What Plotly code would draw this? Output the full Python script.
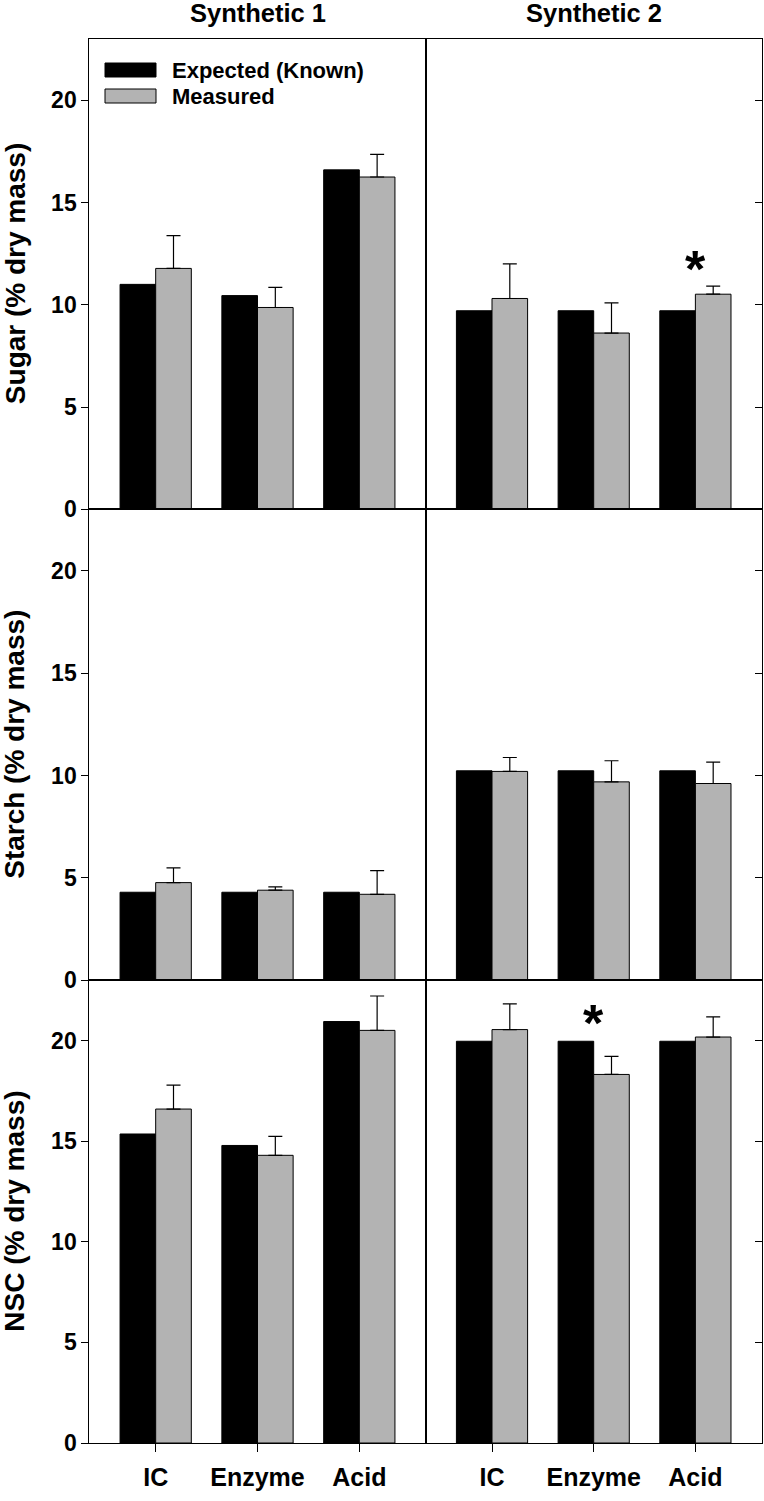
import plotly.graph_objects as go
from plotly.subplots import make_subplots

categories = ["IC", "Enzyme", "Acid"]
columns = ["Synthetic 1", "Synthetic 2"]
row_titles = ["Sugar (% dry mass)", "Starch (% dry mass)", "NSC (% dry mass)"]
series_names = ["Expected (Known)", "Measured"]

sugar_s1_expected = [11.0, 10.45, 16.6]
sugar_s1_measured = [11.78, 9.87, 16.25]
sugar_s1_err = [1.6, 0.98, 1.11]
sugar_s2_expected = [9.71, 9.71, 9.71]
sugar_s2_measured = [10.31, 8.62, 10.52]
sugar_s2_err = [1.69, 1.48, 0.39]

starch_s1_expected = [4.3, 4.3, 4.3]
starch_s1_measured = [4.77, 4.40, 4.20]
starch_s1_err = [0.72, 0.16, 1.16]
starch_s2_expected = [10.23, 10.23, 10.23]
starch_s2_measured = [10.20, 9.69, 9.61]
starch_s2_err = [0.68, 1.03, 1.04]

nsc_s1_expected = [15.36, 14.79, 20.95]
nsc_s1_measured = [16.60, 14.30, 20.51]
nsc_s1_err = [1.19, 0.94, 1.71]
nsc_s2_expected = [19.97, 19.97, 19.97]
nsc_s2_measured = [20.55, 18.32, 20.18]
nsc_s2_err = [1.28, 0.90, 1.0]

# significance markers: (row, col, category, y-value)
sig_row = [1, 3]
sig_col = [2, 2]
sig_cat = ["Acid", "Enzyme"]
sig_y = [12.04, 21.2]

y_ticks = [0, 5, 10, 15, 20]

panels = [
    [(sugar_s1_expected, sugar_s1_measured, sugar_s1_err),
     (sugar_s2_expected, sugar_s2_measured, sugar_s2_err)],
    [(starch_s1_expected, starch_s1_measured, starch_s1_err),
     (starch_s2_expected, starch_s2_measured, starch_s2_err)],
    [(nsc_s1_expected, nsc_s1_measured, nsc_s1_err),
     (nsc_s2_expected, nsc_s2_measured, nsc_s2_err)],
]

FONT = "Liberation Sans, Arial, sans-serif"
BLACK = "#000000"
GRAY = "#b3b3b3"
W, H = 764, 1501

fig = make_subplots(rows=3, cols=2, horizontal_spacing=0, vertical_spacing=0)

for r in range(3):
    for c in range(2):
        exp, meas, err = panels[r][c]
        fig.add_trace(go.Bar(x=categories, y=exp, name=series_names[0],
                             marker=dict(color=BLACK, line=dict(color=BLACK, width=1)),
                             showlegend=False), row=r + 1, col=c + 1)
        fig.add_trace(go.Bar(x=categories, y=meas, name=series_names[1],
                             marker=dict(color=GRAY, line=dict(color=BLACK, width=1)),
                             error_y=dict(type="data", array=err, arrayminus=[0] * len(err),
                                          symmetric=False, color=BLACK, thickness=1.2, width=7),
                             showlegend=False), row=r + 1, col=c + 1)

# pixel geometry -> domains
xl = [89.3, 425.7, 761.7]
yb = [39, 509.3, 980.3, 1443]
xdom = [[xl[0] / W, xl[1] / W], [xl[1] / W, xl[2] / W]]
ydom = [[1 - yb[i + 1] / H, 1 - yb[i] / H] for i in range(3)]

for r in range(3):
    for c in range(2):
        idx = r * 2 + c + 1
        xa = "xaxis" if idx == 1 else f"xaxis{idx}"
        ya = "yaxis" if idx == 1 else f"yaxis{idx}"
        bottom = (r == 2)
        fig.layout[xa].update(
            domain=xdom[c], range=[-0.652, 2.652], showline=True, mirror=True,
            linecolor=BLACK, linewidth=1, showgrid=False, zeroline=False,
            ticks="outside" if bottom else "", ticklen=8, tickwidth=1, tickcolor=BLACK,
            showticklabels=bottom, automargin=False, ticklabelstandoff=4,
            tickfont=dict(family=FONT, size=25, color=BLACK, weight="bold"),
        )
        fig.layout[ya].update(
            domain=ydom[r], range=[0, 23], showline=True, mirror=True,
            linecolor=BLACK, linewidth=1, showgrid=False, zeroline=False,
            tickvals=y_ticks, ticks="outside" if c == 0 else "inside",
            side="left" if c == 0 else "right",
            ticklen=7, tickwidth=1, tickcolor=BLACK,
            showticklabels=(c == 0), automargin=False,
            tickfont=dict(family=FONT, size=23, color=BLACK, weight="bold"),
        )

annotations = []
for c in range(2):
    annotations.append(dict(text=columns[c], xref="paper", yref="paper",
                            x=(xdom[c][0] + xdom[c][1]) / 2, y=1 - 13 / H,
                            xanchor="center", yanchor="middle", showarrow=False,
                            font=dict(family=FONT, size=25.5, color=BLACK, weight="bold")))
for r in range(3):
    annotations.append(dict(text=row_titles[r], xref="paper", yref="paper",
                            x=15 / W, y=(ydom[r][0] + ydom[r][1]) / 2, textangle=-90,
                            xanchor="center", yanchor="middle", showarrow=False,
                            font=dict(family=FONT, size=28, color=BLACK, weight="bold")))
for i in range(len(sig_y)):
    idx = (sig_row[i] - 1) * 2 + sig_col[i]
    annotations.append(dict(text="*", xref=f"x{idx}" if idx > 1 else "x",
                            yref=f"y{idx}" if idx > 1 else "y",
                            x=sig_cat[i], y=sig_y[i], xanchor="center", yanchor="middle",
                            yshift=-6, showarrow=False,
                            font=dict(family=FONT, size=52, color=BLACK, weight="bold")))

# manual legend (wide swatches like the original)
legend_y = [70, 96]
legend_colors = [BLACK, GRAY]
shapes = []
for i in range(2):
    shapes.append(dict(type="rect", xref="paper", yref="paper",
                       x0=105 / W, x1=156 / W,
                       y0=1 - (legend_y[i] + 7) / H, y1=1 - (legend_y[i] - 7) / H,
                       fillcolor=legend_colors[i], line=dict(color=BLACK, width=1)))
    annotations.append(dict(text=series_names[i], xref="paper", yref="paper",
                            x=170 / W, y=1 - legend_y[i] / H, xanchor="left", yanchor="middle",
                            showarrow=False,
                            font=dict(family=FONT, size=22, color=BLACK, weight="bold")))

fig.update_layout(
    width=W, height=H, margin=dict(l=0, r=0, t=0, b=0),
    paper_bgcolor="white", plot_bgcolor="white",
    barmode="group", bargap=0.3, bargroupgap=0,
    annotations=annotations, shapes=shapes, showlegend=False,
)

fig.write_html("out.html", config={"displayModeBar": False},
               post_script="document.body.style.margin='0px';document.body.style.overflow='hidden';")
